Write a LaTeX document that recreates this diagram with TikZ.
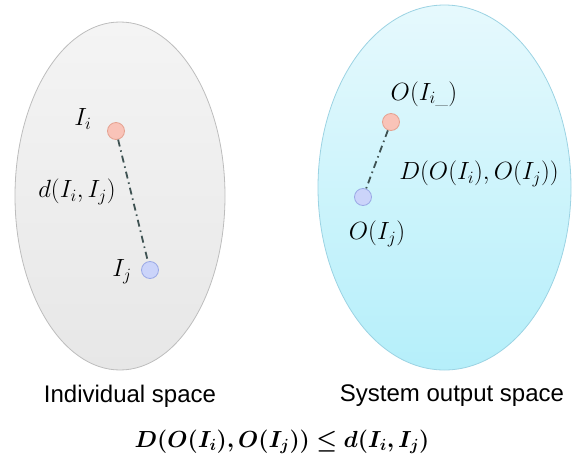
\documentclass[tikz,border=0pt]{standalone}
\usepackage{fontspec}
\setsansfont{Liberation Sans}
\usepackage{amsmath,bm}
\usetikzlibrary{shapes.geometric}
\definecolor{leftborder}{HTML}{BDBDBD}
\definecolor{lefttop}{HTML}{F4F4F4}
\definecolor{leftbot}{HTML}{E7E7E7}
\definecolor{rightborder}{HTML}{9CD3E3}
\definecolor{righttop}{HTML}{E6F9FD}
\definecolor{rightbot}{HTML}{B5EFFA}
\definecolor{redfill}{HTML}{F9C3B8}
\definecolor{redline}{HTML}{E5A291}
\definecolor{bluefill}{HTML}{CBD4FA}
\definecolor{blueline}{HTML}{9BA9E6}
\definecolor{linkcol}{HTML}{3E5252}
\tikzset{
  space/.style={ellipse, inner sep=0pt, line width=0.8pt},
  reddot/.style={circle, minimum size=17pt, inner sep=0pt, fill=redfill, draw=redline, line width=0.8pt},
  bluedot/.style={circle, minimum size=17pt, inner sep=0pt, fill=bluefill, draw=blueline, line width=0.8pt},
  link/.style={draw=linkcol, line width=1.8pt, dash pattern=on 7pt off 4pt on 1.5pt off 4pt},
  mlabel/.style={font=\fontsize{26}{30}\selectfont, inner sep=0pt},
  elabel/.style={font=\fontsize{23}{27}\selectfont, inner sep=0pt},
  slabel/.style={font=\sffamily\fontsize{24}{28}\selectfont, inner sep=0pt}
}
\begin{document}
\begin{tikzpicture}[x=1pt, y=-1pt]
\useasboundingbox (0,0) rectangle (576,474);
\node[space, minimum width=210pt, minimum height=348pt, top color=lefttop, bottom color=leftbot, draw=leftborder] (L) at (120,196) {};
\node[space, minimum width=253pt, minimum height=365pt, top color=righttop, bottom color=rightbot, draw=rightborder] (R) at (444.5,187.5) {};
\node[reddot] (Ii) at (116,131) {};
\node[bluedot] (Ij) at (150,270) {};
\node[reddot] (Oi) at (391,122) {};
\node[bluedot] (Oj) at (363,197) {};
\draw[link] (Ii) -- (Ij);
\draw[link] (Oi) -- (Oj);
\node[mlabel] (lIi) at (83,119) {$I_i$};
\node[mlabel] (ld) at (77,192) {$d(I_i,I_j)$};
\node[mlabel] (lIj) at (122,272) {$I_j$};
\node[mlabel] (lOi) at (424,94) {$O(I_{i\_})$};
\node[mlabel] (lD) at (479,174) {$D(O(I_i),O(I_j))$};
\node[mlabel] (lOj) at (377,234) {$O(I_j)$};
\node[slabel] (tL) at (130,396) {Individual space};
\node[slabel] (tR) at (452,396) {System output space};
\node[elabel] (eq) at (282,442) {\scalebox{0.935}{$\bm{D(O(I_i),O(I_j))\le d(I_i,I_j)}$}};
\end{tikzpicture}
\end{document}
